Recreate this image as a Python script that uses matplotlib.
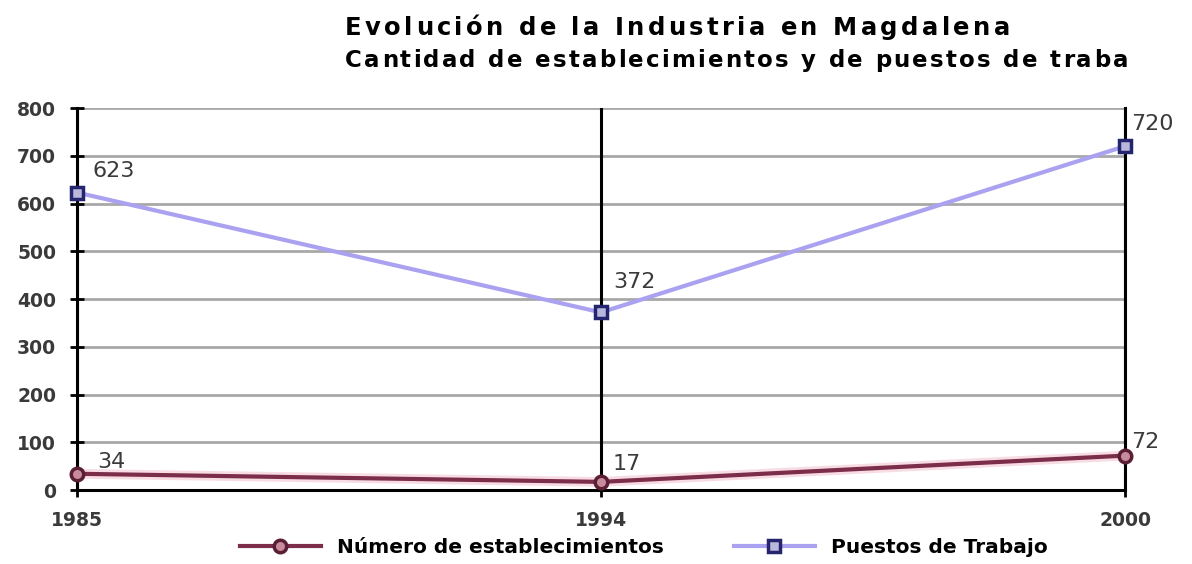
import numpy as np
from matplotlib import pyplot as plt

years = ["1985", "1994", "2000"]
establecimientos = [34, 17, 72]
puestos = [623, 372, 720]
yticks = [0, 100, 200, 300, 400, 500, 600, 700, 800]

title1 = "Evolución de la Industria en Magdalena"
title2 = "Cantidad de establecimientos y de puestos de traba"

# label offsets in pixels (dx, dy)
off_est = [(20, 12), (12, 18), (6, 14)]
off_pue = [(15, 22), (12, 30), (6, 22)]

fig = plt.figure(figsize=(11.92, 5.64), dpi=100)
ax = fig.add_axes([0.0646, 0.1312, 0.8792, 0.6773])
renderer = fig.canvas.get_renderer()
W = fig.bbox.width


def spaced_text(s, x0, x1, y, size):
    # draw text letter by letter so it stretches from x0 to x1 (pixels)
    kw = dict(fontsize=size, fontweight="bold", family="DejaVu Sans", va="center")
    probe = fig.text(0, 0, "I", **kw)
    wI = probe.get_window_extent(renderer).width
    probe.remove()
    pos = []
    for i in range(len(s) + 1):
        t = fig.text(0, 0, s[:i] + "I", **kw)
        pos.append(t.get_window_extent(renderer).width - wI)
        t.remove()
    track = (x1 - x0 - pos[-1]) / (len(s) - 1)
    for i, ch in enumerate(s):
        if ch == " ":
            continue
        fig.text((x0 + pos[i] + i * track) / W, y, ch, ha="left", **kw)


x = np.arange(len(years))

ax.plot(x, establecimientos, color="#f4c6d2", lw=7, alpha=0.6, zorder=3, clip_on=False)
l1, = ax.plot(x, establecimientos, color="#7b2d4a", lw=3, marker="o", markersize=9,
              markerfacecolor="#c98a9c", markeredgecolor="#5a1f35", markeredgewidth=2.5,
              zorder=4, clip_on=False, label="Número de establecimientos")
l2, = ax.plot(x, puestos, color="#aaa2f0", lw=3, marker="s", markersize=9,
              markerfacecolor="#b9b7dc", markeredgecolor="#25246e", markeredgewidth=2.5,
              zorder=4, clip_on=False, label="Puestos de Trabajo")

for i in range(len(x)):
    ax.annotate(str(establecimientos[i]), (x[i], establecimientos[i]), xytext=off_est[i],
                textcoords="offset pixels", fontsize=16, color="#3a3a3a", va="center", ha="left")
    ax.annotate(str(puestos[i]), (x[i], puestos[i]), xytext=off_pue[i],
                textcoords="offset pixels", fontsize=16, color="#3a3a3a", va="center", ha="left")

ax.set_xlim(0, 2)
ax.set_ylim(0, 800)
ax.set_xticks(x)
ax.set_xticklabels(years)
ax.set_yticks(yticks)

ax.yaxis.grid(True, color="#a8a8a8", lw=2)
for xi in x:
    ax.axvline(xi, color="black", lw=2.2, zorder=2)
ax.set_axisbelow(True)

ax.spines["top"].set_visible(False)
ax.spines["left"].set_linewidth(2.2)
ax.spines["bottom"].set_linewidth(2.2)
ax.spines["right"].set_linewidth(2.2)
ax.tick_params(axis="both", direction="inout", length=10, width=2, colors="black",
               labelcolor="#3a3a3a", labelsize=13.5)
ax.tick_params(axis="y", pad=10)
ax.tick_params(axis="x", pad=10)
for lab in ax.get_xticklabels() + ax.get_yticklabels():
    lab.set_fontweight("bold")

spaced_text(title1, 345, 1010, 0.95, 17.5)
spaced_text(title2, 345, 1128, 0.893, 16.5)

fig.legend(handles=[l1, l2], loc="lower center", bbox_to_anchor=(0.54, -0.02), ncol=2,
           frameon=False, handlelength=4, columnspacing=3.5,
           prop={"weight": "bold", "size": 14.5})

plt.savefig("out.png", dpi=100)
